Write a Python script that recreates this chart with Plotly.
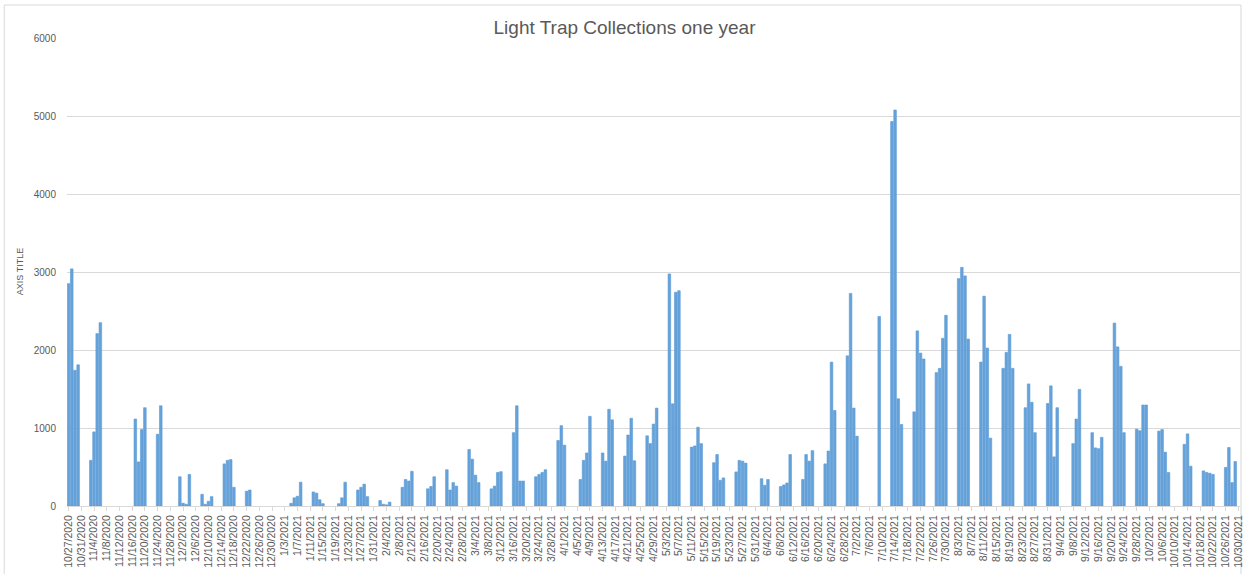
import plotly.graph_objects as go

dates = [
    "2020-10-27", "2020-10-28", "2020-10-29", "2020-10-30",
    "2020-11-03", "2020-11-04", "2020-11-05", "2020-11-06",
    "2020-11-17", "2020-11-18", "2020-11-19", "2020-11-20",
    "2020-11-24", "2020-11-25",
    "2020-12-01", "2020-12-02", "2020-12-03", "2020-12-04",
    "2020-12-08", "2020-12-09", "2020-12-10", "2020-12-11",
    "2020-12-15", "2020-12-16", "2020-12-17", "2020-12-18",
    "2020-12-22", "2020-12-23",
    "2021-01-05", "2021-01-06", "2021-01-07", "2021-01-08",
    "2021-01-12", "2021-01-13", "2021-01-14", "2021-01-15",
    "2021-01-20", "2021-01-21", "2021-01-22",
    "2021-01-26", "2021-01-27", "2021-01-28", "2021-01-29",
    "2021-02-02", "2021-02-03", "2021-02-04", "2021-02-05",
    "2021-02-09", "2021-02-10", "2021-02-11", "2021-02-12",
    "2021-02-17", "2021-02-18", "2021-02-19",
    "2021-02-23", "2021-02-24", "2021-02-25", "2021-02-26",
    "2021-03-02", "2021-03-03", "2021-03-04", "2021-03-05",
    "2021-03-09", "2021-03-10", "2021-03-11", "2021-03-12",
    "2021-03-16", "2021-03-17", "2021-03-18", "2021-03-19",
    "2021-03-23", "2021-03-24", "2021-03-25", "2021-03-26",
    "2021-03-30", "2021-03-31", "2021-04-01",
    "2021-04-06", "2021-04-07", "2021-04-08", "2021-04-09",
    "2021-04-13", "2021-04-14", "2021-04-15", "2021-04-16",
    "2021-04-20", "2021-04-21", "2021-04-22", "2021-04-23",
    "2021-04-27", "2021-04-28", "2021-04-29", "2021-04-30",
    "2021-05-04", "2021-05-05", "2021-05-06", "2021-05-07",
    "2021-05-11", "2021-05-12", "2021-05-13", "2021-05-14",
    "2021-05-18", "2021-05-19", "2021-05-20", "2021-05-21",
    "2021-05-25", "2021-05-26", "2021-05-27", "2021-05-28",
    "2021-06-02", "2021-06-03", "2021-06-04",
    "2021-06-08", "2021-06-09", "2021-06-10", "2021-06-11",
    "2021-06-15", "2021-06-16", "2021-06-17", "2021-06-18",
    "2021-06-22", "2021-06-23", "2021-06-24", "2021-06-25",
    "2021-06-29", "2021-06-30", "2021-07-01", "2021-07-02",
    "2021-07-09",
    "2021-07-13", "2021-07-14", "2021-07-15", "2021-07-16",
    "2021-07-20", "2021-07-21", "2021-07-22", "2021-07-23",
    "2021-07-27", "2021-07-28", "2021-07-29", "2021-07-30",
    "2021-08-03", "2021-08-04", "2021-08-05", "2021-08-06",
    "2021-08-10", "2021-08-11", "2021-08-12", "2021-08-13",
    "2021-08-17", "2021-08-18", "2021-08-19", "2021-08-20",
    "2021-08-24", "2021-08-25", "2021-08-26", "2021-08-27",
    "2021-08-31", "2021-09-01", "2021-09-02", "2021-09-03",
    "2021-09-08", "2021-09-09", "2021-09-10",
    "2021-09-14", "2021-09-15", "2021-09-16", "2021-09-17",
    "2021-09-21", "2021-09-22", "2021-09-23", "2021-09-24",
    "2021-09-28", "2021-09-29", "2021-09-30", "2021-10-01",
    "2021-10-05", "2021-10-06", "2021-10-07", "2021-10-08",
    "2021-10-13", "2021-10-14", "2021-10-15",
    "2021-10-19", "2021-10-20", "2021-10-21", "2021-10-22",
    "2021-10-26", "2021-10-27", "2021-10-28", "2021-10-29",
]

counts = [
    2850, 3040, 1740, 1810,
    585, 950, 2210, 2350,
    1115, 565, 980, 1260,
    920, 1285,
    375, 36, 22, 405,
    150, 22, 60, 120,
    540, 585, 595, 240,
    190, 205,
    35, 105, 125, 305,
    180, 165, 80, 30,
    30, 105, 305,
    205, 240, 280, 120,
    70, 22, 15, 50,
    240, 340, 320, 445,
    220, 250, 375,
    465, 205, 300, 255,
    725, 600, 395, 300,
    220, 255, 430, 440,
    940, 1285, 320, 320,
    375, 405, 430, 465,
    840, 1030, 780,
    340, 585, 680, 1150,
    680, 575, 1240, 1105,
    640, 910, 1125, 580,
    900, 800, 1050, 1255,
    2975, 1310, 2740, 2760,
    755, 770, 1010, 800,
    555, 660, 330, 360,
    437, 585, 575, 550,
    350, 265, 340,
    250, 270, 295, 660,
    340, 660, 575, 710,
    540, 705, 1845, 1225,
    1925, 2725, 1255, 895,
    2430,
    4930, 5077, 1375, 1045,
    1207, 2245, 1960, 1885,
    1710, 1765, 2150, 2445,
    2915, 3060, 2950, 2140,
    1845, 2690, 2025, 870,
    1765, 1970, 2200, 1765,
    1260, 1565, 1330, 940,
    1315, 1540, 630, 1260,
    800, 1115, 1495,
    940, 745, 735, 880,
    2345, 2040, 1790, 940,
    985, 965, 1295, 1295,
    960, 980, 690, 430,
    790, 925, 510,
    450, 430, 420, 405,
    495, 750, 300, 570,
]

title_text = "Light Trap Collections one year"
y_title_text = "AXIS TITLE"

DAY_MS = 86400000

fig = go.Figure()
fig.add_trace(go.Bar(
    x=dates,
    y=counts,
    width=DAY_MS * 0.82,
    marker=dict(color="#66a2da", line=dict(color="#5b9bd5", width=0.6)),
))

fig.update_layout(
    width=1249,
    height=574,
    paper_bgcolor="white",
    plot_bgcolor="white",
    margin=dict(l=67, r=5, t=38, b=68),
    showlegend=False,
    font=dict(family="Liberation Sans, Arial, sans-serif", color="#595959"),
    title=dict(
        text=title_text,
        x=0.5, xref="container", xanchor="center",
        y=1 - 27 / 574, yref="container", yanchor="middle",
        font=dict(size=19, color="#595959", family="Liberation Sans, Arial, sans-serif"),
    ),
    xaxis=dict(
        type="date",
        range=["2020-10-26 12:00", "2021-10-30 12:00"],
        tick0="2020-10-27",
        dtick=4 * DAY_MS,
        tickformat="%-m/%-d/%Y",
        tickangle=-90,
        tickfont=dict(size=10.5, color="#595959"),
        ticks="outside",
        ticklen=4,
        tickcolor="#d9d9d9",
        showline=True,
        linecolor="#d9d9d9",
        linewidth=1,
        showgrid=False,
        zeroline=False,
    ),
    yaxis=dict(
        range=[0, 6000],
        dtick=1000,
        tickfont=dict(size=10, color="#595959"),
        showgrid=True,
        gridcolor="#d9d9d9",
        gridwidth=1,
        zeroline=False,
        showline=False,
        ticklabelstandoff=10,
    ),
    annotations=[
        dict(
            text=y_title_text, xref="paper", yref="paper",
            x=(20 - 67) / 1177, y=0.5, xanchor="center", yanchor="middle",
            textangle=-90, showarrow=False,
            font=dict(size=9, color="#595959"),
        )
    ],
    shapes=[
        dict(
            type="rect", xref="paper", yref="paper",
            x0=(4 - 67) / 1177, x1=(1245 - 67) / 1177,
            y0=-0.4, y1=(506 - 5) / 468,
            line=dict(color="#d9d9d9", width=1), fillcolor="rgba(0,0,0,0)",
            layer="below",
        )
    ],
)

fig.write_html(
    "out.html",
    config={"displayModeBar": False},
    post_script="document.body.style.margin='0';document.body.style.overflow='hidden';",
)
